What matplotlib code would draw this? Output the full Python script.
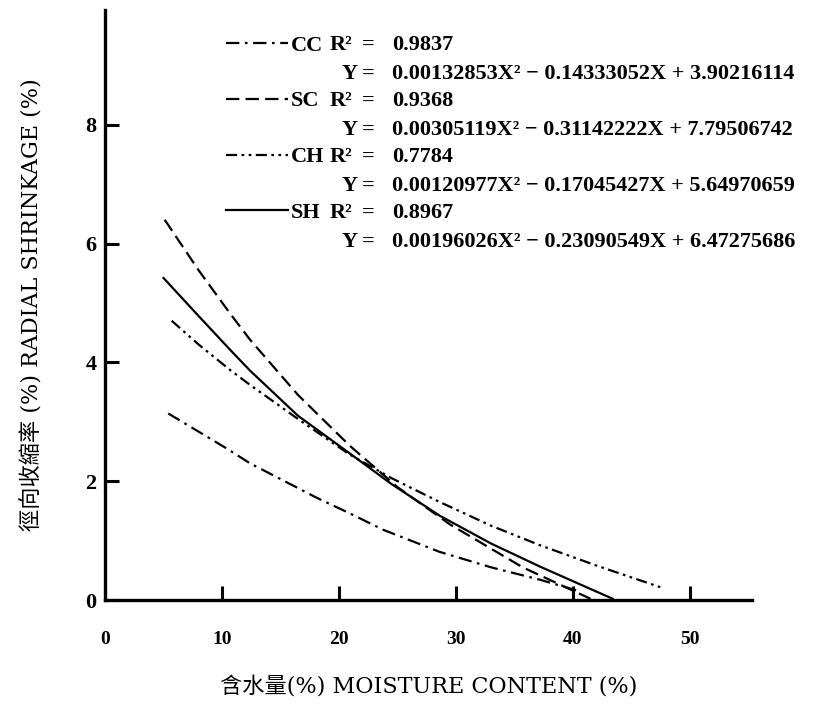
import matplotlib
matplotlib.use("Agg")
import matplotlib.pyplot as plt

plt.rcParams['font.family'] = ['Liberation Serif', 'Noto Sans CJK TC']

# ---- data ----
cc_x = [5.4, 10.4, 12.4, 18.1, 20.9, 23.8, 28.6, 33.0, 37.2, 40.5]
cc_y = [3.14, 2.55, 2.30, 1.72, 1.46, 1.18, 0.81, 0.55, 0.34, 0.15]

sc_x = [5.1, 8.0, 10.7, 12.4, 16.5, 20.9, 25.0, 29.5, 35.7, 41.5]
sc_y = [6.40, 5.55, 4.82, 4.38, 3.45, 2.60, 1.90, 1.27, 0.55, 0.02]

ch_x = [5.7, 8.0, 10.7, 12.4, 16.4, 20.9, 24.5, 28.6, 33.0, 37.2, 42.0, 47.7]
ch_y = [4.70, 4.30, 3.87, 3.62, 3.06, 2.45, 2.05, 1.65, 1.25, 0.92, 0.58, 0.20]

sh_x = [5.0, 8.0, 10.7, 12.4, 16.5, 20.9, 24.5, 28.6, 33.0, 37.2, 43.4]
sh_y = [5.42, 4.78, 4.21, 3.86, 3.10, 2.47, 1.95, 1.42, 0.95, 0.56, 0.02]

names = ["CC", "SC", "CH", "SH"]
r2 = ["0.9837", "0.9368", "0.7784", "0.8967"]
equations = [
    "0.00132853X² − 0.14333052X + 3.90216114",
    "0.00305119X² − 0.31142222X + 7.79506742",
    "0.00120977X² − 0.17045427X + 5.64970659",
    "0.00196026X² − 0.23090549X + 6.47275686",
]
x_ticks = [0, 10, 20, 30, 40, 50]
y_ticks = [0, 2, 4, 6, 8]

W, H = 819, 704
fig = plt.figure(figsize=(W / 100, H / 100), dpi=100)
ax = fig.add_axes([105 / W, 1 - 600 / H, (752 - 105) / W, (600 - 10) / H])

styles = [
    (0, (6, 2.5, 1.2, 2.5)),          # CC dash-dot
    (0, (6, 2.8)),                    # SC dashed
    (0, (5, 2, 1.2, 2, 1.2, 2)),      # CH dash-dot-dot
    '-',                              # SH solid
]
series = [(cc_x, cc_y), (sc_x, sc_y), (ch_x, ch_y), (sh_x, sh_y)]
handles = []
for (xs, ys), ls, nm in zip(series, styles, names):
    ln, = ax.plot(xs, ys, color='black', lw=1.6, linestyle=ls, label=nm)
    handles.append(ln)

ax.set_xlim(0, 55.3)
ax.set_ylim(0, 9.93)
for s in ['top', 'right']:
    ax.spines[s].set_visible(False)
for s in ['left', 'bottom']:
    ax.spines[s].set_linewidth(2.4)

ax.set_xticks(x_ticks)
ax.set_yticks(y_ticks)
ax.set_xticklabels([str(v) for v in x_ticks], fontsize=14, fontweight='bold')
ax.set_yticklabels([str(v) for v in y_ticks], fontsize=16, fontweight='bold')
ax.tick_params(axis='x', direction='in', length=10, width=2.2, pad=22)
ax.tick_params(axis='y', direction='in', length=10, width=2.2, pad=6)

lab_family = ['DejaVu Serif', 'Noto Sans CJK TC']
ax.set_xlabel("含水量(%) MOISTURE CONTENT (%)", fontsize=16, family=lab_family, labelpad=20)
ax.set_ylabel("徑向收縮率 (%) RADIAL SHRINKAGE (%)", fontsize=16, family=lab_family, labelpad=30)

leg_font = {'family': 'Liberation Serif', 'weight': 'bold', 'size': 16}
leg = ax.legend(handles=handles, labels=names, loc='upper left',
                bbox_to_anchor=(226 / W, 1 - 35 / H), bbox_transform=fig.transFigure,
                frameon=False, prop=leg_font,
                handlelength=2.8, handletextpad=0.1, labelspacing=1.59,
                borderaxespad=0, borderpad=0)

tf = fig.transFigure
row_y = [45, 101, 157, 213]
for i in range(4):
    y1 = 1 - row_y[i] / H
    y2 = 1 - (row_y[i] + 29) / H
    fig.text(330 / W, y1, "R²", transform=tf, fontdict=leg_font, va='center')
    fig.text(362 / W, y1, "=", transform=tf, fontdict=leg_font, va='center')
    fig.text(392 / W, y1, r2[i], transform=tf, fontdict=leg_font, va='center')
    fig.text(342 / W, y2, "Y", transform=tf, fontdict=leg_font, va='center')
    fig.text(362 / W, y2, "=", transform=tf, fontdict=leg_font, va='center')
    fig.text(392 / W, y2, equations[i], transform=tf, fontdict=leg_font, va='center')

fig.savefig("out.png", dpi=100)
